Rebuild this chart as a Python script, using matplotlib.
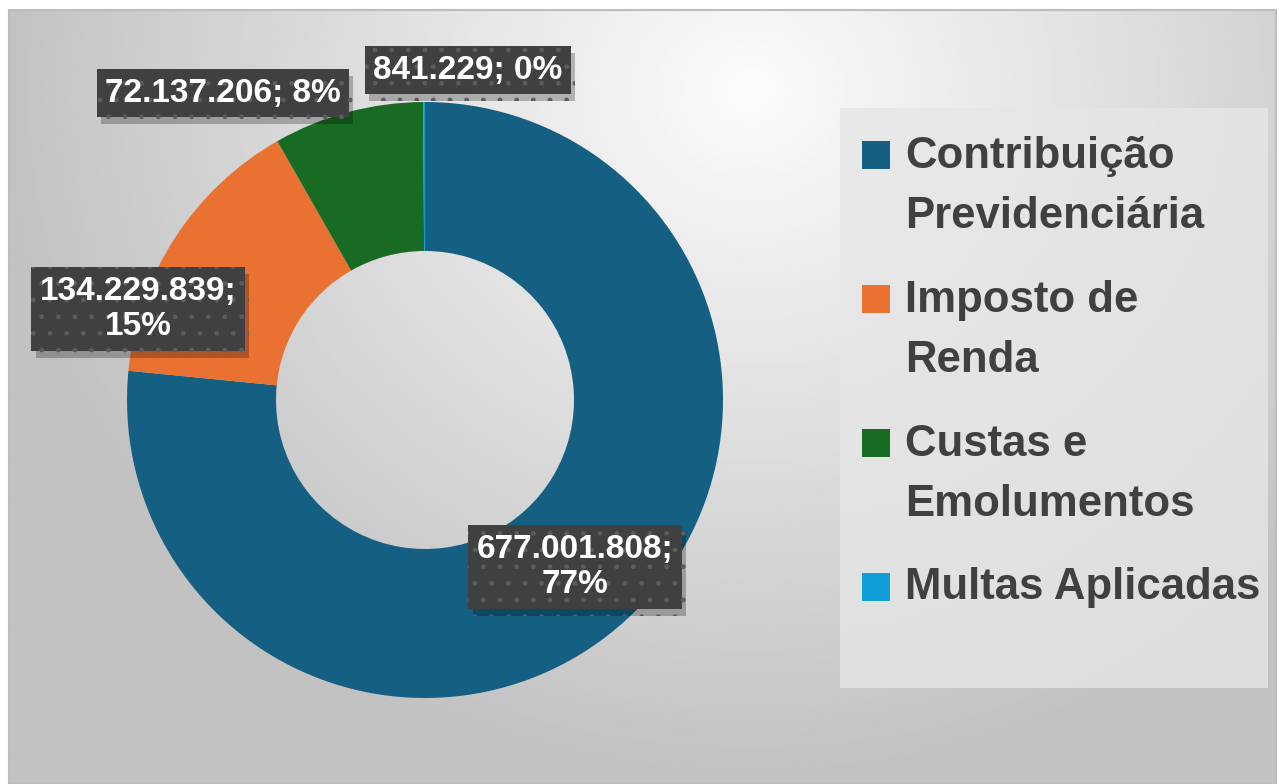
import numpy as np
import matplotlib.pyplot as plt
import matplotlib.patheffects as pe
from matplotlib.patches import Rectangle

# data
categorias = ['Contribuição\nPrevidenciária', 'Imposto de\nRenda',
              'Custas e\nEmolumentos', 'Multas Aplicadas']
valores = [677001808, 134229839, 72137206, 841229]
cores = ['#156082', '#E97132', '#196B24', '#0F9ED5']

# label positions (pixel coords, y from bottom) and line breaks
label_pos = [(575, 217), (138, 475), (223, 691), (468, 714)]
label_quebra = [True, True, False, False]

W, H = 1279, 784
fig = plt.figure(figsize=(W / 100, H / 100), dpi=100)
fig.patch.set_facecolor('white')

#
# gradient background
bg = fig.add_axes([9 / W, 0, (1276 - 9) / W, (H - 10) / H])
yy, xx = np.mgrid[0:300, 0:500]
xx = xx / 500 * 1267
yy = yy / 300 * 774
d = np.sqrt((xx - 740) ** 2 + ((yy - 80) * 1.1) ** 2)
g = 0.985 - 0.215 * np.clip(d / 720, 0, 1.05)
bg.imshow(g, cmap='gray', vmin=0, vmax=1, aspect='auto', interpolation='bilinear')
bg.set_axis_off()
fig.add_artist(Rectangle((9 / W, 0), (1276 - 9) / W, (H - 10) / H,
                         transform=fig.transFigure, fill=False,
                         edgecolor='#bdbdbd', lw=1.5))

#
# donut
ax = fig.add_axes([0, 0, 1, 1])
ax.patch.set_alpha(0)
wedges, _ = ax.pie(valores, colors=cores, startangle=90, counterclock=False,
                   center=(425, 384), radius=298,
                   wedgeprops=dict(width=149, linewidth=0))
ax.set_xlim(0, W)
ax.set_ylim(0, H)
ax.set_axis_off()

#
# data labels
total = sum(valores)
for v, (x, y), quebra in zip(valores, label_pos, label_quebra):
    num = f'{v:,}'.replace(',', '.')
    pct = f'{round(v / total * 100):.0f}%'
    txt = f'{num};\n{pct}' if quebra else f'{num}; {pct}'
    t = ax.text(x, y, txt, ha='center', va='center', color='white',
                fontsize=24, fontweight='bold', family='Liberation Sans',
                linespacing=1.2, zorder=5,
                bbox=dict(boxstyle='square,pad=0.25', facecolor='#404040',
                          edgecolor='#5c5c5c', linewidth=0, hatch='.'))
    t.get_bbox_patch().set_path_effects(
        [pe.withSimplePatchShadow(offset=(3, -5), shadow_rgbFace='k', alpha=0.25),
         pe.Normal()])

#
# legend (drawn by hand: marker aligned with first line)
ax.add_patch(Rectangle((840, H - 688), 428, 580, facecolor='#e6e6e6',
                       edgecolor='none', alpha=0.8, zorder=1))
for i, (nome, c) in enumerate(zip(categorias, cores)):
    base = H - (167 + 144 * i)
    nlin = nome.count('\n')
    ax.add_patch(Rectangle((862, base - 2), 28, 28, facecolor=c,
                           edgecolor='none', zorder=4))
    ax.text(905, base - 61 * nlin, nome, ha='left', va='baseline',
            color='#404040', fontsize=31.5, fontweight='bold',
            family='Liberation Sans', linespacing=1.6, zorder=4)

fig.savefig('out.png', dpi=100)
